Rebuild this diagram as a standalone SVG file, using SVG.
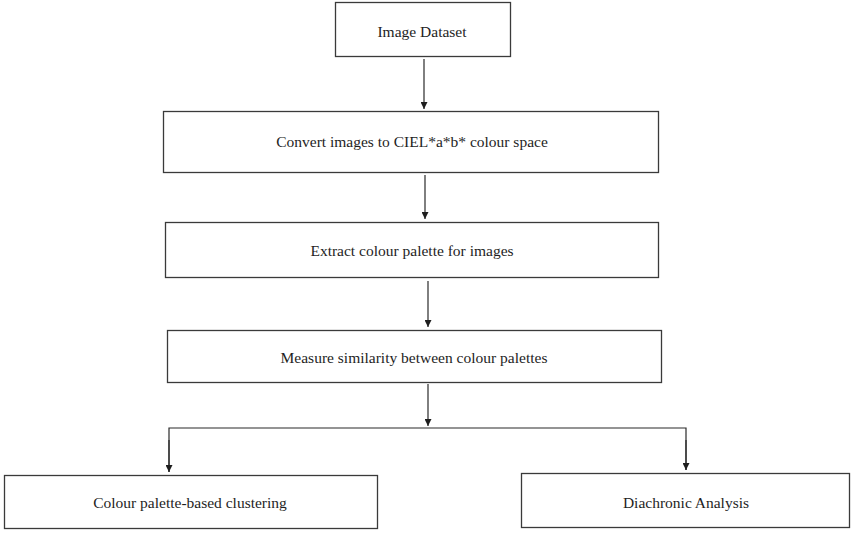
<svg xmlns="http://www.w3.org/2000/svg" width="853" height="533" viewBox="0 0 853 533">
  <style>
    .box { fill: #ffffff; stroke: #3a3a3a; stroke-width: 1.3; }
    .lbl { font-family: "Liberation Serif", "Times New Roman", serif; font-size: 15.5px; fill: #1e1e1e; text-anchor: middle; dominant-baseline: central; }
    .wire { fill: none; stroke: #2a2a2a; stroke-width: 1.2; }
  </style>
  <defs>
    <marker id="head" viewBox="0 0 10 10" refX="10" refY="5" markerWidth="7" markerHeight="7" markerUnits="userSpaceOnUse" orient="auto">
      <path d="M0,0 L10,5 L0,10 Z" fill="#1e1e1e"/>
    </marker>
  </defs>
  <rect width="853" height="533" fill="#ffffff"/>

  <g id="image-dataset">
    <rect class="box" x="335.5" y="2.5" width="175" height="54"/>
    <text class="lbl" x="422" y="31">Image Dataset</text>
  </g>
  <g id="convert-cielab">
    <rect class="box" x="163.5" y="111.5" width="495" height="61"/>
    <text class="lbl" x="412" y="141">Convert images to CIEL*a*b* colour space</text>
  </g>
  <g id="extract-palette">
    <rect class="box" x="165.5" y="222.5" width="493" height="55"/>
    <text class="lbl" x="412" y="250">Extract colour palette for images</text>
  </g>
  <g id="measure-similarity">
    <rect class="box" x="167.5" y="330.5" width="494" height="52"/>
    <text class="lbl" x="414" y="357">Measure similarity between colour palettes</text>
  </g>
  <g id="palette-clustering">
    <rect class="box" x="4.5" y="475.5" width="373" height="53"/>
    <text class="lbl" x="190" y="502">Colour palette-based clustering</text>
  </g>
  <g id="diachronic-analysis">
    <rect class="box" x="521.5" y="473.5" width="328" height="54"/>
    <text class="lbl" x="686" y="502">Diachronic Analysis</text>
  </g>

  <g id="connectors">
    <line class="wire" x1="424" y1="59" x2="424" y2="109" marker-end="url(#head)"/>
    <line class="wire" x1="425" y1="175" x2="425" y2="219" marker-end="url(#head)"/>
    <line class="wire" x1="428" y1="281" x2="428" y2="327" marker-end="url(#head)"/>
    <line class="wire" x1="428" y1="384" x2="428" y2="426" marker-end="url(#head)"/>
    <polyline class="wire" points="169,472 169,428 686,428 686,470"/>
    <line class="wire" x1="169" y1="440" x2="169" y2="472" marker-end="url(#head)"/>
    <line class="wire" x1="686" y1="440" x2="686" y2="470" marker-end="url(#head)"/>
  </g>
</svg>
